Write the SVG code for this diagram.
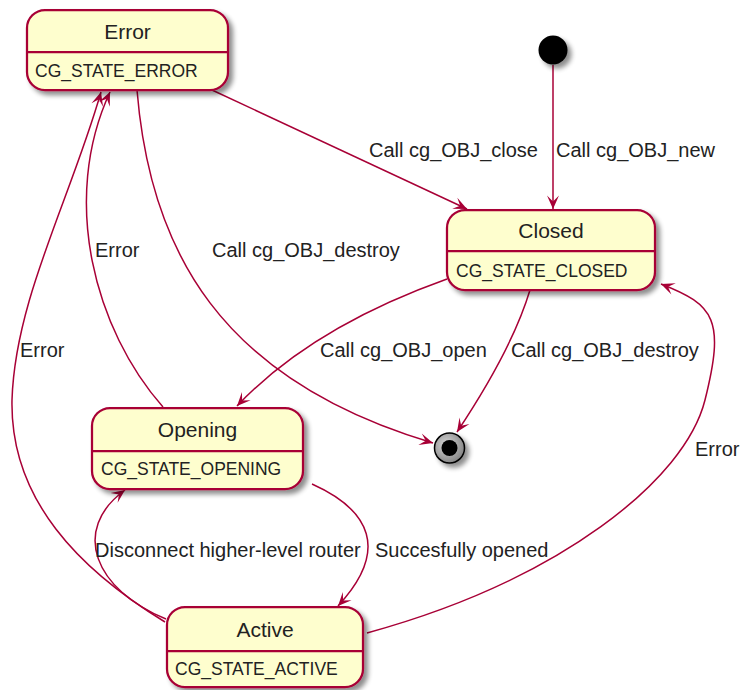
<svg xmlns="http://www.w3.org/2000/svg" width="741" height="690" viewBox="0 0 741 690">
<defs>
<filter id="sh" x="-20%" y="-20%" width="150%" height="160%">
<feGaussianBlur in="SourceAlpha" stdDeviation="2.5"/>
<feOffset dx="4" dy="4" result="b"/>
<feComponentTransfer><feFuncA type="linear" slope="0.45"/></feComponentTransfer>
<feMerge><feMergeNode/><feMergeNode in="SourceGraphic"/></feMerge>
</filter>
<radialGradient id="eg" cx="0.4" cy="0.4" r="0.6">
<stop offset="0" stop-color="#d8d8d8"/>
<stop offset="1" stop-color="#888888"/>
</radialGradient>
<marker id="arr" viewBox="-15 -8 16 16" refX="0" refY="0" markerWidth="16" markerHeight="16" markerUnits="userSpaceOnUse" orient="auto">
<path d="M0,0 L-13.5,-6 L-7.5,0 L-13.5,6 Z" fill="#A80036"/>
</marker>
</defs>
<style>
.st rect{fill:#FEFECE;stroke:#A80036;stroke-width:2.25}
.st line{stroke:#A80036;stroke-width:2.25}
.nm{font-family:"Liberation Sans",Arial,sans-serif;font-size:21px;fill:#222;text-anchor:middle}
.at{font-family:"Liberation Sans",Arial,sans-serif;font-size:17.5px;fill:#222}
.lb{font-family:"Liberation Sans",Arial,sans-serif;font-size:20px;fill:#222}
.ed path{fill:none;stroke:#A80036;stroke-width:1.5;marker-end:url(#arr)}
</style>
<rect width="741" height="690" fill="#FFFFFF"/>
<g id="connectors" class="ed">
<path d="M553,65 L553,209"/>
<path d="M212,90 L467,209"/>
<path d="M137,90 C150,250 220,380 433,443"/>
<path d="M530,290 C515,340 485,390 457,432"/>
<path d="M447,279 C360,310 290,350 237,406"/>
<path d="M163,407 C95,330 60,200 110,92"/>
<path d="M165,622 C80,570 10,500 12,400 C15,300 70,200 101,92"/>
<path d="M166,619 C95,590 70,530 125,490"/>
<path d="M312,484 C370,510 390,550 338,606"/>
<path d="M367,633 C560,580 685,480 705,400 C725,320 715,305 661,284"/>
</g>
<g id="labels">
<text class="lb" x="556" y="157">Call cg_OBJ_new</text>
<text class="lb" x="369" y="157">Call cg_OBJ_close</text>
<text class="lb" x="212" y="257">Call cg_OBJ_destroy</text>
<text class="lb" x="95" y="257">Error</text>
<text class="lb" x="320" y="357">Call cg_OBJ_open</text>
<text class="lb" x="511" y="357">Call cg_OBJ_destroy</text>
<text class="lb" x="20" y="357">Error</text>
<text class="lb" x="695" y="456">Error</text>
<text class="lb" x="95" y="557">Disconnect higher-level router</text>
<text class="lb" x="375" y="557">Succesfully opened</text>
</g>
<g id="start" filter="url(#sh)">
<circle cx="553" cy="50" r="14.5" fill="#000"/>
</g>
<g id="end" filter="url(#sh)">
<circle cx="449.5" cy="448" r="15" fill="url(#eg)" stroke="#000" stroke-width="1.5"/>
<circle cx="449.5" cy="448" r="8" fill="#000"/>
</g>
<g id="Error" class="st">
<rect x="27" y="10" width="201" height="80" rx="18" ry="18" filter="url(#sh)"/>
<line x1="27" y1="52" x2="228" y2="52"/>
<text class="nm" x="127.5" y="39">Error</text>
<text class="at" x="35" y="77">CG_STATE_ERROR</text>
</g>
<g id="Closed" class="st">
<rect x="447" y="210" width="208" height="80" rx="18" ry="18" filter="url(#sh)"/>
<line x1="447" y1="251" x2="655" y2="251"/>
<text class="nm" x="551" y="238">Closed</text>
<text class="at" x="456" y="277">CG_STATE_CLOSED</text>
</g>
<g id="Opening" class="st">
<rect x="92" y="408" width="211" height="81" rx="18" ry="18" filter="url(#sh)"/>
<line x1="92" y1="451" x2="303" y2="451"/>
<text class="nm" x="197.5" y="437">Opening</text>
<text class="at" x="101" y="475">CG_STATE_OPENING</text>
</g>
<g id="Active" class="st">
<rect x="167" y="607" width="196" height="80" rx="18" ry="18" filter="url(#sh)"/>
<line x1="167" y1="651" x2="363" y2="651"/>
<text class="nm" x="265" y="637">Active</text>
<text class="at" x="175" y="675">CG_STATE_ACTIVE</text>
</g>
</svg>
